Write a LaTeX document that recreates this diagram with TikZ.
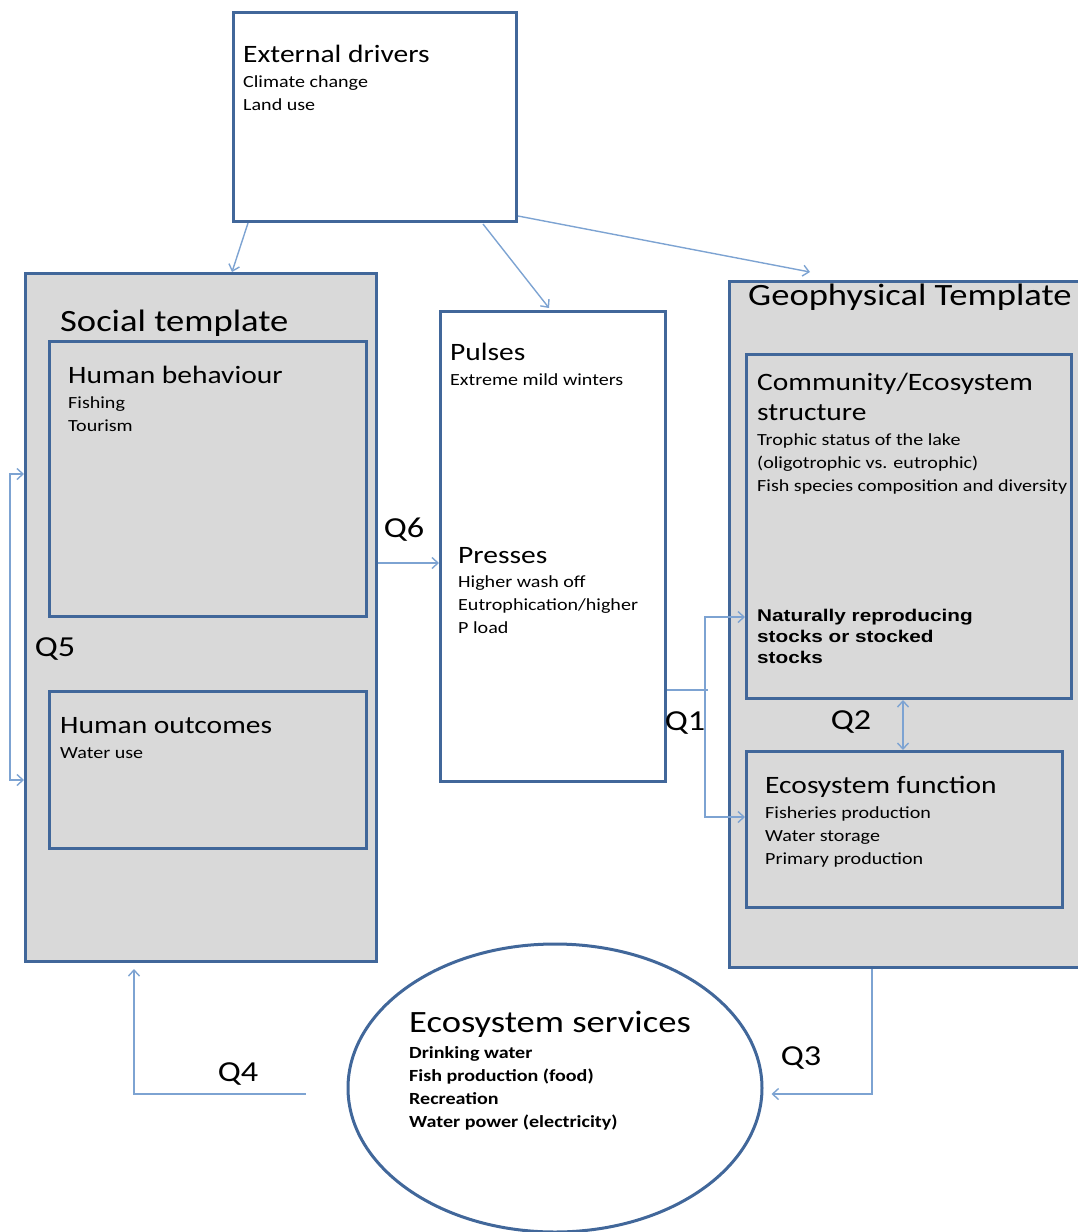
\documentclass[tikz,border=0pt]{standalone}
\usepackage{fontspec}
\setmainfont{Carlito}[FakeStretch=1.18]
\newfontfamily\arialbold{Liberation Sans}[FakeStretch=1.22]
\usetikzlibrary{arrows.meta,calc,positioning,shapes.geometric}
\definecolor{boxblue}{HTML}{41679A}
\definecolor{arrowblue}{HTML}{7DA3D2}
\definecolor{tplgray}{HTML}{D9D9D9}
\newcommand*{\fsz}[2]{\fontsize{#1}{#2}\selectfont}

\tikzset{
  box/.style={draw=boxblue, line width=3pt, anchor=north west, inner sep=0pt},
  template/.style={box, fill=tplgray},
  plainbox/.style={box, fill=white},
  head/.style={anchor=base west, inner sep=0pt, font=\fsz{25}{30}},
  items/.style={anchor=base west, inner sep=0pt, align=left, font=\fsz{17}{23}},
  qlabel/.style={inner sep=0pt, font=\fsz{29}{32}},
  link/.style={draw=arrowblue, line width=1.4pt, -{Straight Barb[length=6pt,width=11pt]}},
  dlink/.style={link, {Straight Barb[length=6pt,width=11pt]}-{Straight Barb[length=6pt,width=11pt]}},
  plainlink/.style={draw=arrowblue, line width=1.4pt}
}

\begin{document}
\begin{tikzpicture}[x=1pt, y=-1pt]
    \useasboundingbox (0,0) rectangle (1077,1232);
    % external drivers
    \node [plainbox, minimum width=283, minimum height=209] (ext) at (232,11) {};
    \node [head] (exthead) at (243,62) {External drivers};
    \node [items] (extitems) at (243,110) {Climate change\\Land use};

    % social template (items anchored on their last line)
    \node [template, minimum width=351, minimum height=688] (social) at (24,272) {};
    \node [head, font=\fsz{31}{36}] (socialhead) at (60,331) {Social template};
    \node [template, minimum width=317, minimum height=275] (behav) at (48,340) {};
    \node [head] (behavhead) at (68,383) {Human behaviour};
    \node [items] (behavitems) at (68,431) {Fishing\\Tourism};
    \node [template, minimum width=317, minimum height=157] (outc) at (48,690) {};
    \node [head] (outchead) at (60,733) {Human outcomes};
    \node [items] (outcitems) at (60,758) {Water use};

    % pulses and presses
    \node [plainbox, minimum width=225, minimum height=470] (pulses) at (439,310) {};
    \node [head] (pulseshead) at (450,360) {Pulses};
    \node [items] (pulsesitems) at (450,385) {Extreme mild winters};
    \node [head] (presseshead) at (458,563) {Presses};
    \node [items] (pressesitems) at (458,633) {Higher wash off\\Eutrophication/higher\\P load};

    % geophysical template
    \node [template, minimum width=360, minimum height=686] (geo) at (728,280) {};
    \node [head, font=\fsz{31}{36}] (geohead) at (748,305) {Geophysical Template};
    \node [template, minimum width=325, minimum height=344] (comm) at (745,353) {};
    \node [head, align=left, font=\fsz{25}{30}] (commhead) at (757,420) {Community/Ecosystem\\structure};
    \node [items] (commitems) at (757,491) {Trophic status of the lake\\(oligotrophic vs. eutrophic)\\Fish species composition and diversity};
    \node [items, font=\arialbold\bfseries\fsz{17}{21}] (stocks) at (757,663) {Naturally reproducing\\stocks or stocked\\stocks};
    \node [template, minimum width=316, minimum height=156] (func) at (745,750) {};
    \node [head] (funchead) at (765,793) {Ecosystem function};
    \node [items] (funcitems) at (765,864) {Fisheries production\\Water storage\\Primary production};

    % ecosystem services
    \node [ellipse, draw=boxblue, line width=3pt, fill=white, minimum width=414, minimum height=288] (serv) at (555,1088) {};
    \node [head, font=\fsz{31}{36}] (servhead) at (409,1032) {Ecosystem services};
    \node [items, font=\bfseries\fsz{17}{23}] (servitems) at (409,1127) {Drinking water\\Fish production (food)\\Recreation\\Water power (electricity)};

    % connectors
    \draw [link] ($(ext.south west)+(16,0)$) -- ($(social.north west)+(208,0)$);
    \draw [link] ($(ext.south west)+(251,1)$) -- ($(pulses.north west)+(110,-2)$);
    \draw [link] ($(ext.south east)+(0,-7)$) -- ($(geo.north west)+(82,-8)$);
    \draw [link] ($(social.north east)+(0,291)$) -- ($(pulses.north west)+(0,253)$);
    \draw [dlink] ($(social.north west)+(0,202)$) -- ++(-14,0) |- ($(social.north west)+(0,508)$);
    \draw [plainlink] ($(pulses.north east)+(0,380)$) -- ++(41,0);
    \draw [dlink] ($(comm.north west)+(0,264)$) -- ++(-40,0) |- ($(func.north west)+(0,67)$);
    \draw [dlink] ($(comm.south west)+(158,0)$) -- ($(func.north west)+(158,0)$);
    \draw [link] ($(geo.south west)+(144,0)$) |- ($(serv.east)+(8,6)$);
    \draw [link] ($(serv.west)+(-41,6)$) -| ($(social.south west)+(110,6)$);

    % question labels
    \node [qlabel] (q1) at (685,723) {Q1};
    \node [qlabel] (q2) at (851,722) {Q2};
    \node [qlabel] (q3) at (801,1058) {Q3};
    \node [qlabel] (q4) at (238,1074) {Q4};
    \node [qlabel] (q5) at (55,649) {Q5};
    \node [qlabel] (q6) at (404,530) {Q6};
\end{tikzpicture}
\end{document}
